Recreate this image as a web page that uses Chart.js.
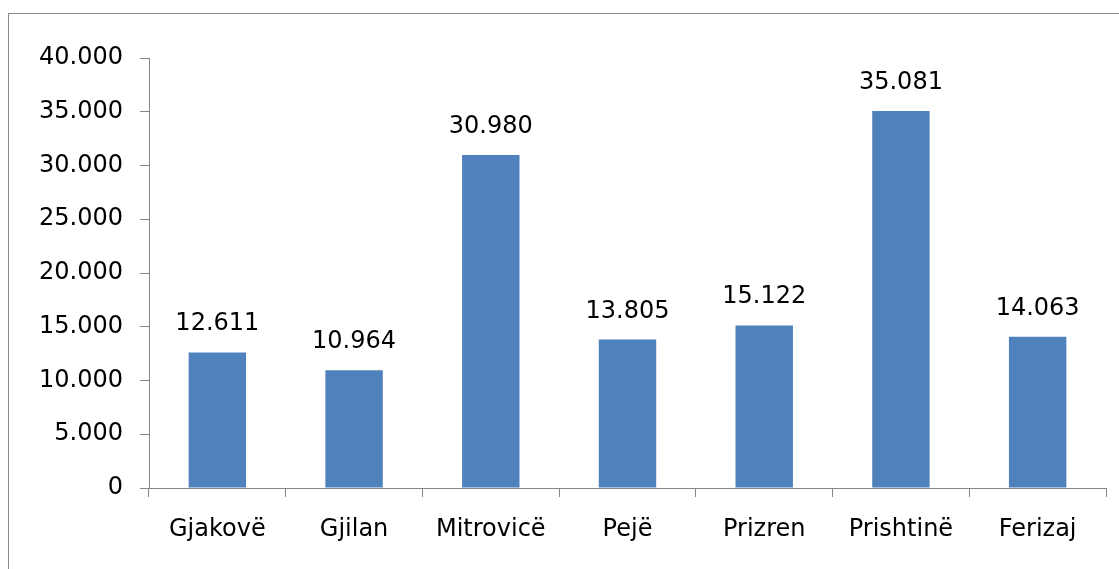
<!DOCTYPE html>
<html>
<head>
<meta charset="utf-8">
<style>
  html, body { margin: 0; padding: 0; background: #fff; overflow: hidden; }
  #frame { position: absolute; left: 8px; top: 13px; width: 1300px; height: 800px; border: 1.5px solid #8a8a8a; }
  #wrap { position: absolute; left: 0; top: 0; width: 1119px; height: 569px; }
</style>
</head>
<body>
<div id="frame"></div>
<div id="wrap"><canvas id="chart"></canvas></div>
<script src="https://cdn.jsdelivr.net/npm/chart.js"></script>
<script>
  const categories = ['Gjakovë', 'Gjilan', 'Mitrovicë', 'Pejë', 'Prizren', 'Prishtinë', 'Ferizaj'];
  const values = [12611, 10964, 30980, 13805, 15122, 35081, 14063];
  const yMax = 40000;
  const yStep = 5000;

  // thousands with a dot, like 12.611
  function fmt(v) {
    return String(Math.round(v)).replace(/\B(?=(\d{3})+(?!\d))/g, '.');
  }

  const fontFamily = '"DejaVu Sans", Verdana, sans-serif';
  const fontSize = 24;

  // values above the bars
  const barLabels = {
    id: 'barLabels',
    afterDatasetsDraw(chart) {
      const ctx = chart.ctx;
      const meta = chart.getDatasetMeta(0);
      ctx.save();
      ctx.font = fontSize + 'px ' + fontFamily;
      ctx.fillStyle = '#000';
      ctx.textAlign = 'center';
      ctx.textBaseline = 'alphabetic';
      meta.data.forEach((bar, i) => {
        ctx.fillText(fmt(values[i]), bar.x, bar.y - 22);
      });
      ctx.restore();
    }
  };

  const ctx = document.getElementById('chart').getContext('2d');
  new Chart(ctx, {
    type: 'bar',
    data: {
      labels: categories,
      datasets: [{
        data: values,
        backgroundColor: '#4F81BD',
        borderWidth: 0,
        barPercentage: 0.42,
        categoryPercentage: 1
      }]
    },
    options: {
      responsive: true,
      maintainAspectRatio: false,
      animation: false,
      layout: { padding: { top: 58, right: 13, left: 0, bottom: 0 } },
      plugins: {
        legend: { display: false },
        tooltip: { enabled: false }
      },
      scales: {
        x: {
          afterFit: (s) => { s.height = 81; },
          grid: { drawOnChartArea: false, tickLength: 9, color: '#868686', offset: true },
          border: { color: '#868686', width: 1 },
          ticks: { color: '#000', font: { family: fontFamily, size: fontSize }, padding: 18, maxRotation: 0 }
        },
        y: {
          min: 0,
          max: yMax,
          afterFit: (s) => { s.width = 149; },
          grid: { drawOnChartArea: false, tickLength: 9, color: '#868686' },
          border: { color: '#868686', width: 1 },
          ticks: {
            stepSize: yStep,
            color: '#000',
            padding: 17,
            font: { family: fontFamily, size: fontSize },
            callback: (v) => fmt(v)
          }
        }
      }
    },
    plugins: [barLabels]
  });
</script>
</body>
</html>
